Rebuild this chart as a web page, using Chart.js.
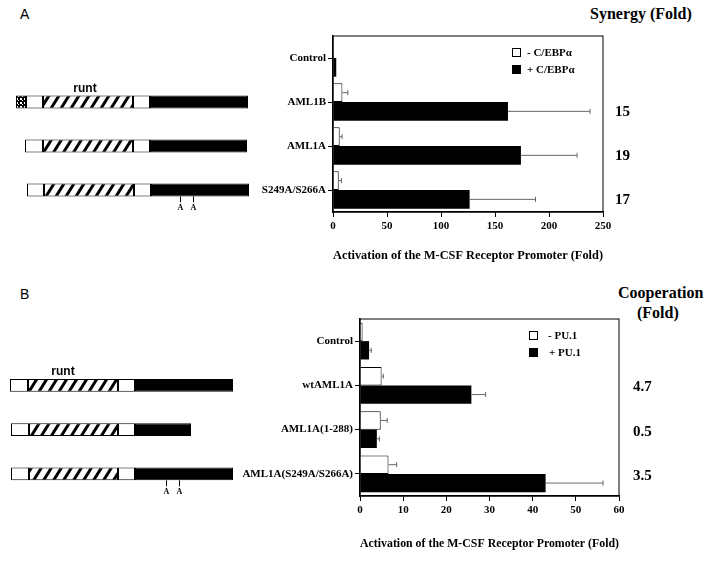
<!DOCTYPE html>
<html>
<head>
<meta charset="utf-8">
<script src="https://cdn.jsdelivr.net/npm/chart.js@4"></script>
<style>
  body { margin: 0; width: 710px; height: 566px; background: #fff; position: relative; overflow: hidden; font-family: "Liberation Serif", serif; color: #000; }
  canvas, .abs { position: absolute; }
  .letter { font-family: "Liberation Sans", sans-serif; font-size: 14px; line-height: 16px; }
  .head { font-weight: bold; font-size: 16px; line-height: 20px; white-space: nowrap; }
  .leg { font-weight: bold; font-size: 11px; line-height: 12px; white-space: nowrap; }
  .box { box-sizing: border-box; width: 9px; height: 9px; border: 1px solid #000; background: #fff; }
  .box.dark { background: #000; }
</style>
</head>
<body>

<div class="abs letter" style="left:20px;top:6px">A</div>
<div class="abs letter" style="left:20px;top:286px">B</div>

<div class="abs head" style="left:590px;top:4px">Synergy (Fold)</div>
<div class="abs head" style="left:618px;top:283px">Cooperation</div>
<div class="abs head" style="left:637px;top:303px">(Fold)</div>

<canvas id="schemaA" width="260" height="240" style="left:0;top:30px"></canvas>
<canvas id="chartA" width="460" height="240" style="left:250px;top:30px"></canvas>
<canvas id="schemaB" width="260" height="256" style="left:0;top:310px"></canvas>
<canvas id="chartB" width="480" height="256" style="left:230px;top:310px"></canvas>

<!-- legends -->
<div class="abs box" style="left:512px;top:48px"></div>
<div class="abs box dark" style="left:512px;top:65px"></div>
<div class="abs leg" style="left:527px;top:46px">- C/EBPα</div>
<div class="abs leg" style="left:527px;top:63px">+ C/EBPα</div>

<div class="abs box" style="left:529px;top:331px"></div>
<div class="abs box dark" style="left:529px;top:348px"></div>
<div class="abs leg" style="left:548px;top:329px">- PU.1</div>
<div class="abs leg" style="left:549px;top:346px">+ PU.1</div>

<script>
// Panel A data
const labelsA = ['Control', 'AML1B', 'AML1A', 'S249A/S266A'];
const minusCebp = [1, 8.7, 6.2, 5.3];
const minusCebpErr = [0, 5, 2.2, 2.5];
const plusCebp = [3, 162, 174, 126.5];
const plusCebpErr = [0, 76, 52, 61];
const synergyFold = ['', '15', '19', '17'];
const ticksA = { max: 250, step: 50 };

// Panel B data
const labelsB = ['Control', 'wtAML1A', 'AML1A(1-288)', 'AML1A(S249A/S266A)'];
const minusPu1 = [0.6, 5.0, 4.8, 6.6];
const minusPu1Err = [0, 0.4, 1.5, 1.9];
const plusPu1 = [2.1, 25.8, 3.9, 43.0];
const plusPu1Err = [0.5, 3.3, 0.6, 13.3];
const cooperationFold = ['', '4.7', '0.5', '3.5'];
const ticksB = { max: 60, step: 10 };

// Protein schematics: [start, end, domain] in schematic units, one row per category
const domainsA = [
    [],
    [[16, 26, 'box'], [26, 43, 'open'], [43, 133, 'runt'], [133, 150, 'open'], [150, 248, 'tail']],
    [[25, 43, 'open'], [43, 133, 'runt'], [133, 150, 'open'], [150, 247, 'tail']],
    [[27, 44, 'open'], [44, 134, 'runt'], [134, 151, 'open'], [151, 249, 'tail']]
];
const sitesA = [180, 193];
const runtLabelA = 85;

const domainsB = [
    [],
    [[10, 28, 'open'], [28, 118, 'runt'], [118, 135, 'open'], [135, 233, 'tail']],
    [[11, 29, 'open'], [29, 118, 'runt'], [118, 135, 'open'], [135, 191, 'tail']],
    [[11, 29, 'open'], [29, 118, 'runt'], [118, 135, 'open'], [135, 233, 'tail']]
];
const sitesB = [166, 179];
const runtLabelB = 63;

const serif = 'Liberation Serif';
const tickFont = { family: serif, size: 11, weight: 'bold' };

function hatchPattern() {
    const w = 10, h = 16;
    const c = document.createElement('canvas');
    c.width = w; c.height = h;
    const g = c.getContext('2d');
    g.fillStyle = '#fff';
    g.fillRect(0, 0, w, h);
    g.strokeStyle = '#000';
    g.lineWidth = 3;
    [-w, 0, w].forEach(dx => {
        g.beginPath();
        g.moveTo(dx - w, 2 * h);
        g.lineTo(dx + 2 * w, -h);
        g.stroke();
    });
    return g.createPattern(c, 'repeat');
}

function checkerPattern() {
    const c = document.createElement('canvas');
    c.width = 4; c.height = 4;
    const g = c.getContext('2d');
    g.fillStyle = '#000';
    g.fillRect(0, 0, 4, 4);
    g.fillStyle = '#fff';
    g.fillRect(0, 0, 2, 2);
    g.fillRect(2, 2, 1, 1);
    return g.createPattern(c, 'repeat');
}

// one-sided error bars at the end of each bar
const errorBars = {
    id: 'errorBars',
    afterDatasetsDraw(chart) {
        const ctx = chart.ctx;
        const xs = chart.scales.x;
        ctx.save();
        ctx.strokeStyle = '#666';
        ctx.lineWidth = 1;
        chart.data.datasets.forEach((ds, i) => {
            if (!ds.errors) return;
            chart.getDatasetMeta(i).data.forEach((bar, j) => {
                const err = ds.errors[j];
                if (!err) return;
                const x2 = xs.getPixelForValue(ds.data[j] + err);
                ctx.beginPath();
                ctx.moveTo(bar.x, bar.y);
                ctx.lineTo(x2, bar.y);
                ctx.moveTo(x2, bar.y - 2.5);
                ctx.lineTo(x2, bar.y + 2.5);
                ctx.stroke();
            });
        });
        ctx.restore();
    }
};

// box round the plot + fold numbers on the right
const frameAndFold = {
    id: 'frameAndFold',
    afterDraw(chart, args, opts) {
        const { ctx, chartArea: a } = chart;
        ctx.save();
        ctx.strokeStyle = '#000';
        ctx.lineWidth = 1;
        ctx.strokeRect(a.left, a.top, a.right - a.left, a.bottom - a.top);
        ctx.fillStyle = '#000';
        ctx.font = 'bold 15px "' + serif + '"';
        ctx.textBaseline = 'middle';
        opts.values.forEach((v, j) => {
            if (!v) return;
            ctx.fillText(v, a.right + opts.dx, chart.scales.y.getPixelForValue(j) + opts.dy);
        });
        ctx.restore();
    }
};

// "runt" label and mutation ticks for the schematics
const schemaMarks = {
    id: 'schemaMarks',
    afterDraw(chart, args, opts) {
        const ctx = chart.ctx;
        const xs = chart.scales.x, ys = chart.scales.y;
        const half = chart.getDatasetMeta(0).data[1].height / 2;
        ctx.save();
        ctx.fillStyle = '#000';
        ctx.strokeStyle = '#000';
        ctx.textAlign = 'center';
        ctx.textBaseline = 'middle';
        ctx.font = 'bold 12px "Liberation Sans"';
        ctx.fillText('runt', xs.getPixelForValue(opts.runtX), ys.getPixelForValue(1) - half - 7);
        const yb = ys.getPixelForValue(3) + half;
        ctx.font = 'bold 8px "' + serif + '"';
        ctx.lineWidth = 1;
        opts.sites.forEach(s => {
            const x = Math.round(xs.getPixelForValue(s)) + 0.5;
            ctx.beginPath();
            ctx.moveTo(x, yb);
            ctx.lineTo(x, yb + 6);
            ctx.stroke();
            ctx.fillText('A', x, yb + 12);
        });
        ctx.restore();
    }
};

function makeBarChart(id, cfg) {
    new Chart(document.getElementById(id), {
        type: 'bar',
        data: {
            labels: cfg.labels,
            datasets: [
                {
                    data: cfg.minus, errors: cfg.minusErr,
                    backgroundColor: '#fff', borderColor: '#000', borderWidth: 1,
                    categoryPercentage: cfg.catPct, barPercentage: 1
                },
                {
                    data: cfg.plus, errors: cfg.plusErr,
                    backgroundColor: '#000', borderColor: '#000', borderWidth: 0,
                    categoryPercentage: cfg.catPct, barPercentage: 1
                }
            ]
        },
        options: {
            indexAxis: 'y',
            responsive: false,
            animation: false,
            layout: { padding: cfg.padding },
            plugins: {
                legend: { display: false },
                tooltip: { enabled: false },
                frameAndFold: { values: cfg.fold, dx: cfg.foldDx, dy: cfg.foldDy }
            },
            scales: {
                x: {
                    min: 0, max: cfg.ticks.max,
                    ticks: { stepSize: cfg.ticks.step, font: tickFont, color: '#000', padding: 3 },
                    grid: { drawOnChartArea: false, tickLength: 5, color: '#000' },
                    border: { color: '#000', width: 1.5 },
                    title: {
                        display: true,
                        text: 'Activation of the M-CSF Receptor Promoter (Fold)',
                        font: { family: serif, size: 12.5, weight: 'bold' },
                        color: '#000',
                        padding: { top: 0, bottom: cfg.titlePad }
                    },
                    afterFit: s => { s.height = cfg.xHeight; s.paddingLeft = 0; s.paddingRight = 0; }
                },
                y: {
                    ticks: { font: tickFont, color: '#000', padding: 2 },
                    grid: { drawOnChartArea: false, offset: false, tickLength: 5, color: '#000' },
                    border: { color: '#000', width: 1.5 },
                    afterFit: s => { s.width = cfg.yWidth; s.paddingTop = 0; s.paddingBottom = 0; }
                }
            }
        },
        plugins: [errorBars, frameAndFold]
    });
}

function makeSchema(id, cfg, fills) {
    const nSeg = Math.max(...cfg.domains.map(r => r.length));
    const datasets = [];
    for (let k = 0; k < nSeg; k++) {
        datasets.push({
            data: cfg.domains.map(r => r[k] ? [r[k][0], r[k][1]] : null),
            backgroundColor: cfg.domains.map(r => r[k] ? fills[r[k][2]] : 'transparent'),
            borderColor: '#000',
            borderWidth: 1,
            borderSkipped: false,
            grouped: false,
            categoryPercentage: 0.29,
            barPercentage: 1
        });
    }
    new Chart(document.getElementById(id), {
        type: 'bar',
        data: { labels: cfg.labels, datasets },
        options: {
            indexAxis: 'y',
            responsive: false,
            animation: false,
            layout: { padding: cfg.padding },
            plugins: {
                legend: { display: false },
                tooltip: { enabled: false },
                schemaMarks: { runtX: cfg.runtX, sites: cfg.sites }
            },
            scales: {
                x: { display: false, min: 0, max: cfg.width },
                y: { display: false }
            }
        },
        plugins: [schemaMarks]
    });
}

document.addEventListener('DOMContentLoaded', () => {
    const fills = { open: '#fff', runt: hatchPattern(), tail: '#000', box: checkerPattern() };

    makeBarChart('chartA', {
        labels: labelsA, minus: minusCebp, minusErr: minusCebpErr, plus: plusCebp, plusErr: plusCebpErr,
        fold: synergyFold, foldDx: 12, foldDy: 10, ticks: ticksA, catPct: 0.85,
        padding: { top: 6, right: 107, left: 0, bottom: 0 }, xHeight: 58, yWidth: 83, titlePad: 7
    });
    makeBarChart('chartB', {
        labels: labelsB, minus: minusPu1, minusErr: minusPu1Err, plus: plusPu1, plusErr: plusPu1Err,
        fold: cooperationFold, foldDx: 14, foldDy: 2, ticks: ticksB, catPct: 0.83,
        padding: { top: 9, right: 91, left: 0, bottom: 0 }, xHeight: 70, yWidth: 130, titlePad: 15
    });
    makeSchema('schemaA', {
        labels: labelsA, domains: domainsA, sites: sitesA, runtX: runtLabelA, width: 260,
        padding: { top: 6, bottom: 58, left: 0, right: 0 }
    }, fills);
    makeSchema('schemaB', {
        labels: labelsB, domains: domainsB, sites: sitesB, runtX: runtLabelB, width: 260,
        padding: { top: 9, bottom: 70, left: 0, right: 0 }
    }, fills);
});
</script>
</body>
</html>
